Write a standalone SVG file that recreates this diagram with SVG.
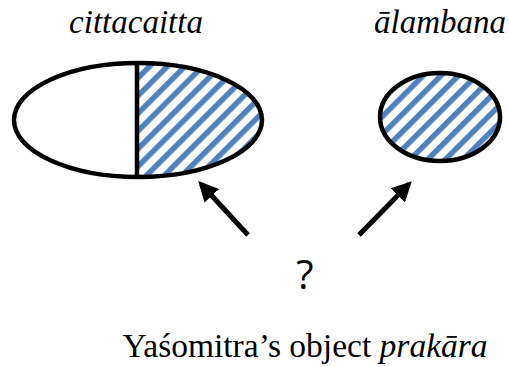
<svg xmlns="http://www.w3.org/2000/svg" width="509" height="367" viewBox="0 0 509 367">
<defs>
<style>
.title{font-style:italic;font-size:33px;fill:#000}
.caption{font-size:33.5px;fill:#000}
.q{font-size:40px;fill:#000}
.outline{fill:none;stroke:#000;stroke-width:4.5}
.conn{stroke:#000;stroke-width:5;fill:none}
</style>
<pattern id="stripes" patternUnits="userSpaceOnUse" width="12.5" height="12.5" patternTransform="rotate(45)">
<rect x="0" y="0" width="12.5" height="12.5" fill="#fff"/>
<rect x="0" y="0" width="5.5" height="12.5" fill="#4f81bd"/>
</pattern>
<clipPath id="rightHalf"><rect x="137" y="50" width="140" height="140"/></clipPath>
<marker id="head" viewBox="0 0 10 10" refX="8" refY="5" markerWidth="4" markerHeight="4" orient="auto" markerUnits="strokeWidth">
<path d="M0,0 L10,5 L0,10 Z" fill="#000"/>
</marker>
</defs>
<g id="cittacaitta">
<ellipse cx="138" cy="120" rx="124" ry="57" fill="#fff"/>
<ellipse cx="138" cy="120" rx="124" ry="57" fill="url(#stripes)" clip-path="url(#rightHalf)"/>
<ellipse class="outline" cx="138" cy="120" rx="124" ry="57"/>
<line x1="137" y1="63" x2="137" y2="177" stroke="#000" stroke-width="4.5"/>
<text class="title" font-family="Liberation Serif, Times New Roman, DejaVu Serif, serif" x="136" y="33" text-anchor="middle">cittacaitta</text>
</g>
<g id="alambana">
<ellipse cx="440" cy="117" rx="60" ry="44" fill="url(#stripes)"/>
<ellipse class="outline" cx="440" cy="117" rx="60" ry="44"/>
<text class="title" font-family="Liberation Serif, Times New Roman, DejaVu Serif, serif" x="440" y="33" text-anchor="middle">ālambana</text>
</g>
<g id="question">
<text class="q" font-family="Open Sans, Liberation Sans, sans-serif" x="305" y="289" text-anchor="middle">?</text>
</g>
<g id="connectors">
<line class="conn" x1="248" y1="235" x2="201" y2="184" marker-end="url(#head)"/>
<line class="conn" x1="359" y1="235" x2="409" y2="184" marker-end="url(#head)"/>
</g>
<g id="caption">
<text class="caption" font-family="Liberation Serif, Times New Roman, DejaVu Serif, serif" x="305" y="357" text-anchor="middle">Yaśomitra’s object <tspan font-style="italic">prakāra</tspan></text>
</g>
</svg>
